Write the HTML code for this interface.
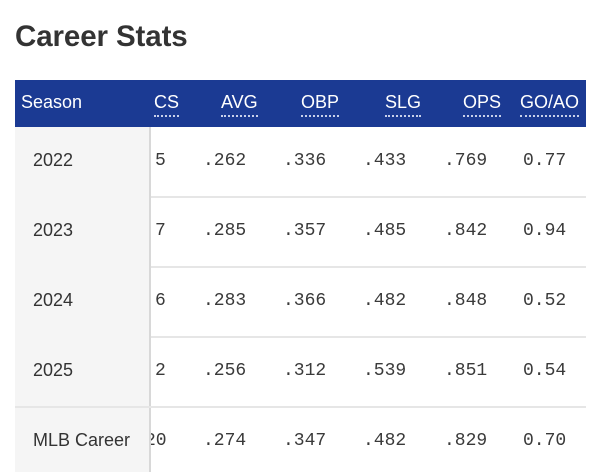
<!DOCTYPE html>
<html><head><style>
body{margin:0;width:600px;height:472px;background:#fff;overflow:hidden;position:relative;font-family:"Liberation Sans",sans-serif}
.t{position:absolute;left:15px;top:20px;font-size:29.5px;font-weight:bold;color:#333;letter-spacing:-0.1px}
.hdr{position:absolute;left:15px;top:80px;width:571px;height:47px;background:#1b3a93}
.h{position:absolute;top:91px;color:#fff;font-size:18px;line-height:23px}
.u{border-bottom:2px dotted #c8d0ea;padding-bottom:1px}
.lc{position:absolute;left:15px;top:127px;width:134px;height:345px;background:#f5f5f5;border-right:2px solid #d8d8d8;z-index:2}
.rl{position:absolute;left:15px;width:571px;height:2px;background:#e6e6e6}
.s{position:absolute;left:33px;font-size:18px;color:#333;z-index:3}
.d{position:absolute;font-family:"Liberation Mono",monospace;font-size:18px;color:#3a3a3a}
</style></head><body>
<div class="t">Career Stats</div>
<div class="hdr"></div>
<div class="h" style="left:21px">Season</div>
<div class="h u" style="left:154px">CS</div>
<div class="h u" style="left:221px">AVG</div>
<div class="h u" style="left:301px">OBP</div>
<div class="h u" style="left:385px">SLG</div>
<div class="h u" style="left:463px">OPS</div>
<div class="h u" style="left:520px">GO/AO</div>
<div class="lc"></div>
<div class="rl" style="top:196px"></div>
<div class="rl" style="top:266px"></div>
<div class="rl" style="top:336px"></div>
<div class="rl" style="top:406px;z-index:3"></div>

<div class="s" style="top:150px">2022</div>
<div class="s" style="top:220px">2023</div>
<div class="s" style="top:290px">2024</div>
<div class="s" style="top:360px">2025</div>
<div class="s" style="top:430px">MLB Career</div>

<div class="d" style="top:151px;left:155px">5</div>
<div class="d" style="top:151px;left:203px">.262</div>
<div class="d" style="top:151px;left:283px">.336</div>
<div class="d" style="top:151px;left:363px">.433</div>
<div class="d" style="top:151px;left:444px">.769</div>
<div class="d" style="top:151px;left:523px">0.77</div>

<div class="d" style="top:221px;left:155px">7</div>
<div class="d" style="top:221px;left:203px">.285</div>
<div class="d" style="top:221px;left:283px">.357</div>
<div class="d" style="top:221px;left:363px">.485</div>
<div class="d" style="top:221px;left:444px">.842</div>
<div class="d" style="top:221px;left:523px">0.94</div>

<div class="d" style="top:291px;left:155px">6</div>
<div class="d" style="top:291px;left:203px">.283</div>
<div class="d" style="top:291px;left:283px">.366</div>
<div class="d" style="top:291px;left:363px">.482</div>
<div class="d" style="top:291px;left:444px">.848</div>
<div class="d" style="top:291px;left:523px">0.52</div>

<div class="d" style="top:361px;left:155px">2</div>
<div class="d" style="top:361px;left:203px">.256</div>
<div class="d" style="top:361px;left:283px">.312</div>
<div class="d" style="top:361px;left:363px">.539</div>
<div class="d" style="top:361px;left:444px">.851</div>
<div class="d" style="top:361px;left:523px">0.54</div>

<div class="d" style="top:431px;left:145px">20</div>
<div class="d" style="top:431px;left:203px">.274</div>
<div class="d" style="top:431px;left:283px">.347</div>
<div class="d" style="top:431px;left:363px">.482</div>
<div class="d" style="top:431px;left:444px">.829</div>
<div class="d" style="top:431px;left:523px">0.70</div>
</body></html>
